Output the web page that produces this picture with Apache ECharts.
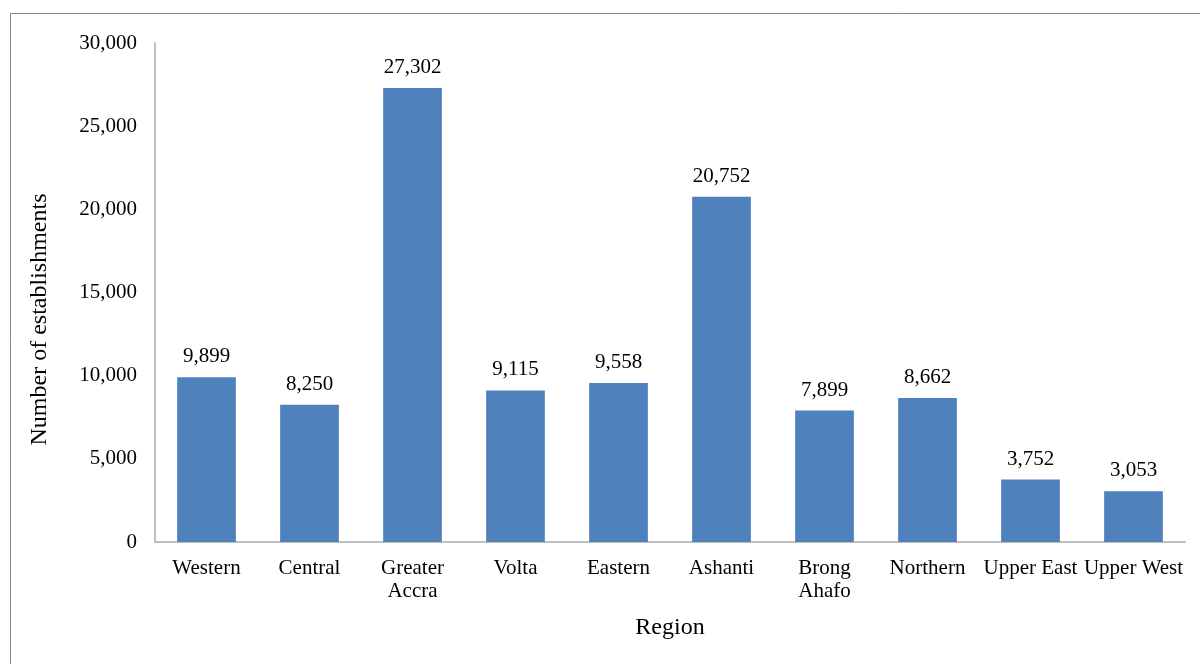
<!DOCTYPE html>
<html><head><meta charset="utf-8">
<script src="https://cdn.jsdelivr.net/npm/echarts@6/dist/echarts.min.js"></script>
<style>html,body{margin:0;padding:0;background:#fff}#c{width:1200px;height:664px}</style>
</head><body><div id="c"></div>
<script>
const categories = ['Western','Central','Greater\nAccra','Volta','Eastern','Ashanti','Brong\nAhafo','Northern','Upper East','Upper West'];
const values = [9899, 8250, 27302, 9115, 9558, 20752, 7899, 8662, 3752, 3053];
const chart = echarts.init(document.getElementById('c'));
const serif = '"Liberation Serif","DejaVu Serif",serif';
chart.setOption({
  animation: false,
  graphic: [{type:'rect', shape:{x:10.5,y:13.5,width:1200,height:700}, style:{fill:'none',stroke:'#888',lineWidth:1}, silent:true}],
  grid: {left:155, right:15, top:43, bottom:122},
  xAxis: {
    type:'category', data: categories,
    name:'Region', nameLocation:'middle', nameGap:74,
    nameTextStyle:{fontFamily:serif, fontSize:24, color:'#000'},
    axisLine:{lineStyle:{color:'#bfbfbf', width:2}},
    axisTick:{show:false},
    axisLabel:{fontFamily:serif, fontSize:21, color:'#000', margin:15, interval:0, lineHeight:23}
  },
  yAxis: {
    type:'value', min:0, max:30000, interval:5000,
    name:'Number of establishments', nameLocation:'middle', nameGap:103, nameRotate:90,
    nameTextStyle:{fontFamily:serif, fontSize:24, color:'#000', padding:[0,54,0,0]},
    axisLine:{show:true, lineStyle:{color:'#bfbfbf', width:2}},
    axisTick:{show:false},
    splitLine:{show:false},
    axisLabel:{fontFamily:serif, fontSize:21, color:'#000', margin:18,
      formatter: v => v.toLocaleString('en-US')}
  },
  series: [{
    type:'bar', data: values, barWidth:'57%',
    itemStyle:{color:'#4f81bd'},
    label:{show:true, position:'top', distance:10, fontFamily:serif, fontSize:21, color:'#000',
      formatter: p => p.value.toLocaleString('en-US')}
  }]
});
</script></body></html>
